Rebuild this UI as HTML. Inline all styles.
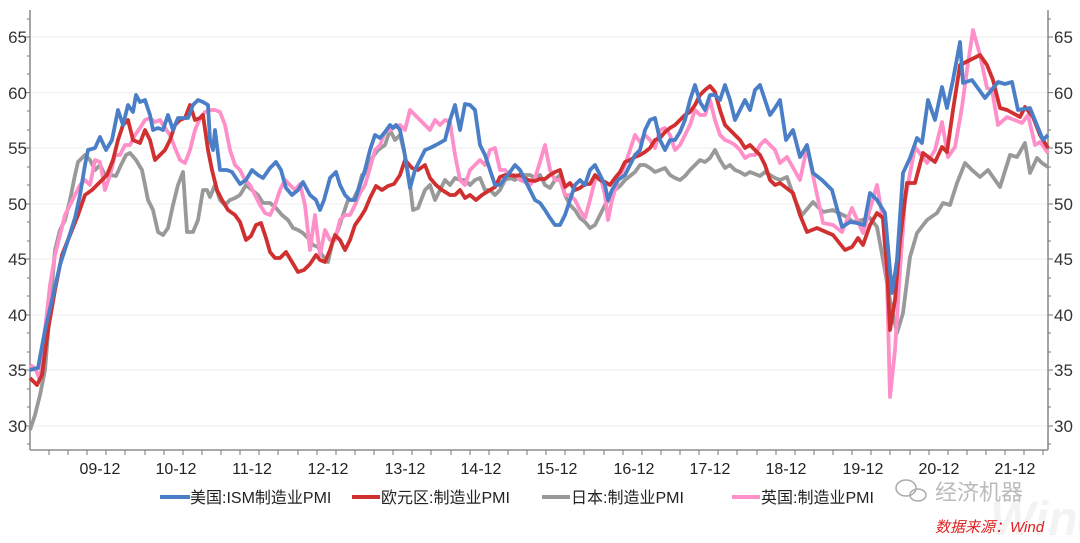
<!DOCTYPE html>
<html><head><meta charset="utf-8"><style>
body{margin:0;background:#fff;}
svg text{font-family:"Liberation Sans","Noto Sans CJK SC",sans-serif;}
</style></head><body>
<svg width="1080" height="538" viewBox="0 0 1080 538" xmlns="http://www.w3.org/2000/svg">
<g stroke="#eeeeee" stroke-width="1">
<line x1="30" x2="1048" y1="37" y2="37"/><line x1="30" x2="1048" y1="92.6" y2="92.6"/><line x1="30" x2="1048" y1="148" y2="148"/><line x1="30" x2="1048" y1="204" y2="204"/><line x1="30" x2="1048" y1="259" y2="259"/><line x1="30" x2="1048" y1="315" y2="315"/><line x1="30" x2="1048" y1="370" y2="370"/><line x1="30" x2="1048" y1="426" y2="426"/>
</g>
<g stroke="#777" stroke-width="1.3" fill="none">
<line x1="30" y1="10" x2="30" y2="450"/><line x1="1048" y1="10" x2="1048" y2="450"/><line x1="30" y1="450" x2="1048" y2="450"/>
</g>
<g stroke="#777" stroke-width="1">
<path d="M25 37h5M25 92.6h5M25 148h5M25 204h5M25 259h5M25 315h5M25 370h5M25 426h5M27 19h3M27 56h3M27 74h3M27 111h3M27 130h3M27 167h3M27 185h3M27 222h3M27 241h3M27 278h3M27 296h3M27 333h3M27 352h3M27 389h3M27 407h3M27 444h3"/>
<path d="M1048 37h5M1048 92.6h5M1048 148h5M1048 204h5M1048 259h5M1048 315h5M1048 370h5M1048 426h5M1048 19h3M1048 56h3M1048 74h3M1048 111h3M1048 130h3M1048 167h3M1048 185h3M1048 222h3M1048 241h3M1048 278h3M1048 296h3M1048 333h3M1048 352h3M1048 389h3M1048 407h3M1048 444h3"/>
<path d="M49 450v5M68 450v5M87 450v5M106 450v5M125 450v5M145 450v5M164 450v5M183 450v5M202 450v5M221 450v5M240 450v5M259 450v5M278 450v5M298 450v5M317 450v5M336 450v5M355 450v5M374 450v5M393 450v5M412 450v5M431 450v5M451 450v5M470 450v5M489 450v5M508 450v5M527 450v5M546 450v5M565 450v5M584 450v5M604 450v5M623 450v5M642 450v5M661 450v5M680 450v5M699 450v5M718 450v5M737 450v5M757 450v5M776 450v5M795 450v5M814 450v5M833 450v5M852 450v5M871 450v5M890 450v5M910 450v5M929 450v5M948 450v5M967 450v5M986 450v5M1005 450v5M1024 450v5M1043 450v5"/>
</g>
<g font-size="17" fill="#333" text-anchor="end">
<text x="27" y="43">65</text><text x="27" y="99">60</text><text x="27" y="154">55</text><text x="27" y="210">50</text><text x="27" y="265">45</text><text x="27" y="321">40</text><text x="27" y="376">35</text><text x="27" y="432">30</text>
</g>
<g font-size="17" fill="#333">
<text x="1054" y="43">65</text><text x="1054" y="99">60</text><text x="1054" y="154">55</text><text x="1054" y="210">50</text><text x="1054" y="265">45</text><text x="1054" y="321">40</text><text x="1054" y="376">35</text><text x="1054" y="432">30</text>
</g>
<g font-size="16" fill="#222" text-anchor="middle">
<text x="100" y="474">09-12</text><text x="176" y="474">10-12</text><text x="252" y="474">11-12</text><text x="328" y="474">12-12</text><text x="405" y="474">13-12</text><text x="481" y="474">14-12</text><text x="557" y="474">15-12</text><text x="634" y="474">16-12</text><text x="710" y="474">17-12</text><text x="786" y="474">18-12</text><text x="863" y="474">19-12</text><text x="939" y="474">20-12</text><text x="1015" y="474">21-12</text>
</g>
<g fill="none" stroke-width="3.8" stroke-linejoin="round">
<polyline stroke="#999999" points="30,430 35,415 40,395 45,370 50,310 55,250 60,230 65,220 70,200 75,175 78,162 85,155 90,160 95,170 100,165 105,175 110,175 116,176 121,165 126,155 130,153 136,160 142,170 148,200 153,210 158,232 163,235 168,228 173,205 178,185 183,172 187,232 193,232 198,220 203,190 207,190 210,197 215,185 220,200 225,205 230,200 235,198 240,195 246,185 252,190 258,195 263,203 270,203 276,208 282,215 288,220 293,228 298,230 303,233 308,238 313,245 318,247 322,255 328,262 333,240 338,230 343,215 348,200 353,200 358,190 362,175 368,172 372,158 378,150 385,145 390,130 395,140 400,135 405,155 410,185 413,210 418,208 425,190 430,185 435,200 440,190 445,180 450,185 455,178 460,180 465,180 470,185 475,180 480,178 485,190 490,190 495,195 500,190 505,180 510,178 515,180 520,175 530,175 535,178 540,175 545,185 550,188 555,180 560,175 565,195 570,205 575,210 580,218 585,222 590,228 595,225 600,215 605,205 610,198 615,190 620,186 625,180 630,176 635,172 640,165 645,165 650,168 655,172 660,170 665,168 670,175 675,178 680,180 685,176 690,170 695,165 700,160 705,162 710,158 715,150 720,160 725,168 730,165 735,170 740,172 745,175 750,172 755,174 760,176 765,172 770,175 775,178 780,180 787,177 795,200 802,215 808,208 813,202 823,212 833,210 847,217 853,222 862,220 870,218 877,227 884,265 890,300 897,333 903,313 910,257 917,233 927,220 937,213 943,203 950,205 957,183 965,163 972,170 980,177 988,170 1000,187 1010,155 1017,157 1025,143 1030,173 1037,158 1042,163 1048,167"/>
<polyline stroke="#ff8fc8" points="30,365 35,368 40,380 45,330 50,285 55,255 60,235 65,215 70,205 75,195 80,185 85,180 90,185 95,160 100,162 105,190 110,175 115,155 120,155 125,145 130,145 135,135 140,128 145,120 150,118 155,122 160,120 165,128 170,135 175,148 180,160 185,163 190,150 195,130 200,118 205,112 210,110 215,110 220,112 225,125 230,150 235,165 240,170 245,180 250,185 255,195 260,205 265,213 270,215 275,205 280,190 285,180 290,185 295,190 300,184 305,205 310,250 315,215 320,255 325,230 330,240 335,240 340,220 345,215 350,215 355,205 360,193 365,185 370,168 375,150 380,145 385,132 390,130 395,127 400,125 405,130 410,110 420,120 425,125 430,130 435,120 440,125 445,120 450,122 455,155 460,180 465,185 470,170 475,165 480,160 485,165 490,150 495,148 500,170 505,170 510,175 515,175 520,180 525,182 530,185 535,178 540,162 545,145 550,170 555,180 560,180 565,195 570,195 575,200 580,210 585,218 590,200 595,180 600,175 605,195 608,220 612,200 618,180 625,165 630,150 635,135 640,142 645,135 650,140 655,148 660,130 665,128 670,135 675,150 680,145 685,135 690,125 695,110 700,115 705,115 710,100 715,120 720,135 725,140 730,142 735,145 740,150 745,158 750,155 755,155 760,145 765,140 770,145 775,150 780,163 787,157 800,180 807,147 815,185 823,223 833,225 842,232 852,208 863,233 877,185 883,220 887,280 890,397 895,350 900,270 905,200 915,147 927,163 935,150 942,122 948,157 955,147 962,107 967,70 973,30 980,55 987,88 992,90 998,125 1007,117 1022,123 1028,115 1035,145 1040,142 1048,153"/>
<polyline stroke="#d03030" points="30,378 37,385 42,375 48,330 55,290 62,255 70,235 78,215 85,195 92,190 100,182 107,175 113,160 118,140 123,125 128,120 133,140 140,143 145,130 150,140 155,160 160,155 165,150 170,140 175,125 180,120 185,118 190,105 195,120 200,118 203,115 208,150 212,170 217,190 222,200 228,210 235,215 240,222 246,240 251,236 256,225 261,223 266,238 270,252 275,258 280,258 286,252 292,262 298,272 304,270 310,264 316,255 320,260 325,262 330,250 335,235 340,240 345,250 350,240 355,225 360,218 365,210 370,198 376,186 382,190 388,186 394,184 400,175 405,160 412,168 418,170 425,165 430,178 436,185 442,190 450,195 455,195 460,190 465,198 470,195 476,200 482,195 490,190 495,187 500,177 505,175 510,175 515,176 520,175 528,180 535,181 540,179 545,179 550,175 555,172 560,170 565,187 570,183 575,190 580,188 585,184 590,184 595,175 600,180 605,182 610,185 615,178 620,172 625,162 630,160 635,157 640,155 645,152 650,148 655,140 660,138 665,132 670,128 675,125 680,120 685,115 690,112 695,105 700,95 705,90 710,86 715,92 720,110 725,125 730,130 735,135 740,140 745,148 750,145 755,150 760,155 765,165 770,180 775,185 780,183 793,193 800,215 807,232 817,228 826,232 833,235 845,250 852,247 858,238 863,245 870,225 877,213 883,218 887,270 890,330 895,300 900,240 907,183 915,183 923,153 935,162 942,147 947,152 953,110 960,65 970,60 980,55 987,65 993,80 1000,108 1007,110 1020,117 1025,107 1033,117 1040,135 1048,148"/>
<polyline stroke="#4a7fc8" points="30,370 38,368 45,330 52,300 60,265 68,240 75,218 80,195 85,165 88,150 95,148 100,137 106,150 112,140 118,110 123,125 128,105 133,112 136,95 140,102 145,100 150,115 153,130 158,128 163,130 168,115 173,130 178,118 183,118 188,118 193,105 198,100 203,102 208,105 210,140 213,150 215,130 220,170 227,170 232,172 240,184 246,180 252,170 258,175 263,178 270,168 276,162 281,170 286,188 292,195 298,190 303,182 310,195 316,200 320,210 324,200 330,178 336,172 340,185 345,195 350,200 355,200 360,185 365,170 370,150 375,135 380,138 385,132 390,125 393,128 396,125 400,130 404,150 410,188 415,170 420,160 425,150 430,148 436,145 445,140 450,120 455,105 460,130 465,104 470,105 475,110 480,145 485,155 490,170 495,185 500,185 505,178 510,172 515,165 520,170 525,180 530,190 535,200 540,203 545,210 550,218 555,225 560,225 565,215 570,200 575,185 580,180 585,185 590,170 595,165 600,175 605,185 608,200 612,190 618,180 625,175 630,165 635,155 640,150 645,130 650,120 655,118 660,140 665,150 670,140 675,140 680,132 685,120 690,100 695,85 700,102 705,110 710,95 715,95 720,100 725,85 730,100 735,120 740,110 745,100 750,110 755,90 760,85 765,100 770,115 775,108 780,100 786,140 793,130 800,157 807,145 813,173 822,180 832,190 842,227 850,222 857,223 864,225 870,193 877,200 885,213 892,293 897,260 903,173 910,158 917,138 922,143 928,100 935,120 942,87 947,108 953,80 960,42 963,83 972,80 985,98 998,82 1005,84 1012,82 1018,110 1030,108 1043,140 1048,135"/>
</g>
<g stroke-width="4">
<line x1="160" y1="497" x2="190" y2="497" stroke="#4a7fc8"/>
<line x1="352" y1="497" x2="380" y2="497" stroke="#d03030"/>
<line x1="542" y1="497" x2="570" y2="497" stroke="#999"/>
<line x1="732" y1="497" x2="760" y2="497" stroke="#ff8fc8"/>
</g>
<g font-size="16" fill="#222">
<text x="190" y="503">美国:ISM制造业PMI</text>
<text x="381" y="503">欧元区:制造业PMI</text>
<text x="571" y="503">日本:制造业PMI</text>
<text x="761" y="503">英国:制造业PMI</text>
</g>
<text x="990" y="535" font-size="48" fill="#f3f3f3" font-weight="bold" font-style="italic">Wind</text>
<g fill="none" stroke="#aaa" stroke-width="1.5"><ellipse cx="906" cy="488" rx="10" ry="8"/><ellipse cx="918" cy="495" rx="8" ry="6"/></g>
<text x="935" y="500" font-size="22" fill="#bbb">经济机器</text>
<text x="935" y="532" font-size="15" fill="#e02020" font-style="italic">数据来源：Wind</text>
</svg>
</body></html>
